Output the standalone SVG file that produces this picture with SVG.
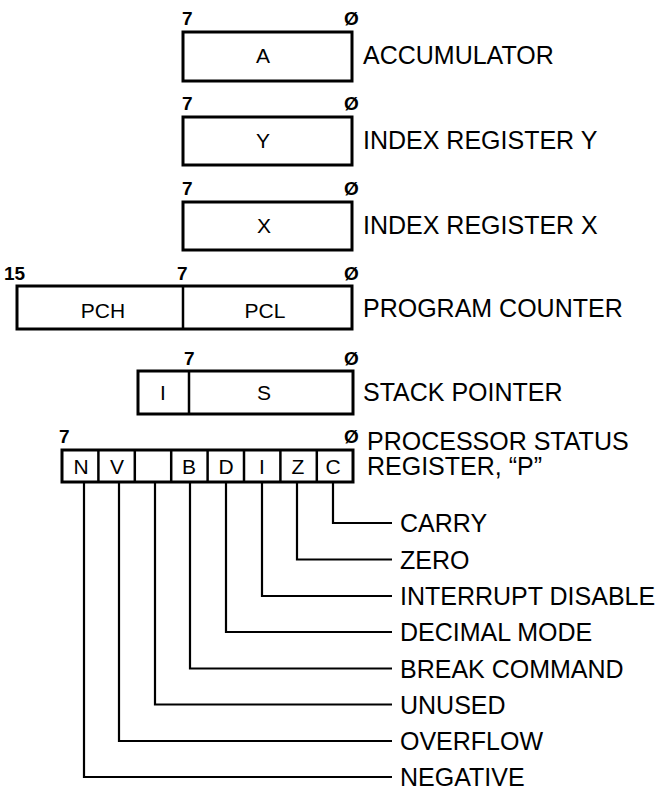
<svg xmlns="http://www.w3.org/2000/svg" width="664" height="790" viewBox="0 0 664 790">
<style>
.box{fill:#fff;stroke:#000;stroke-width:3}
.div{stroke:#000;stroke-width:2.5}
.lbl{font-family:"Liberation Sans",Arial,sans-serif;font-size:25px;fill:#000}
.lbl2{font-family:"Liberation Sans",Arial,sans-serif;font-size:24px;fill:#000}
.in{font-family:"Liberation Sans",Arial,sans-serif;font-size:21px;fill:#000;text-anchor:middle}
.bit{font-family:"Liberation Sans",Arial,sans-serif;font-size:19px;font-weight:bold;fill:#000}
.con{fill:none;stroke:#000;stroke-width:2.2}
</style>
<rect width="664" height="790" fill="#fff"/>
<g id="accumulator">
<rect class="box" x="183" y="32" width="169" height="49"/>
<text class="bit" x="182" y="25">7</text>
<text class="bit" x="344" y="25">Ø</text>
<text class="in" x="263" y="63">A</text>
<text class="lbl" x="363" y="64">ACCUMULATOR</text>
</g>
<g id="index-y">
<rect class="box" x="183" y="117" width="169" height="48"/>
<text class="bit" x="182" y="110">7</text>
<text class="bit" x="344" y="110">Ø</text>
<text class="in" x="263" y="148">Y</text>
<text class="lbl" x="363" y="149">INDEX REGISTER Y</text>
</g>
<g id="index-x">
<rect class="box" x="183" y="202" width="169" height="48"/>
<text class="bit" x="182" y="195">7</text>
<text class="bit" x="344" y="195">Ø</text>
<text class="in" x="264" y="233">X</text>
<text class="lbl" x="363" y="234">INDEX REGISTER X</text>
</g>
<g id="program-counter">
<rect class="box" x="17" y="286" width="335" height="43"/>
<line class="div" x1="183" y1="286" x2="183" y2="329"/>
<text class="bit" x="4" y="280">15</text>
<text class="bit" x="177" y="280">7</text>
<text class="bit" x="344" y="280">Ø</text>
<text class="in" x="103" y="318">PCH</text>
<text class="in" x="265" y="318">PCL</text>
<text class="lbl" x="363" y="317">PROGRAM COUNTER</text>
</g>
<g id="stack-pointer">
<rect class="box" x="138" y="371" width="215" height="43"/>
<line class="div" x1="189" y1="371" x2="189" y2="414"/>
<text class="bit" x="184" y="365">7</text>
<text class="bit" x="344" y="365">Ø</text>
<text class="in" x="163" y="400">I</text>
<text class="in" x="264" y="400">S</text>
<text class="lbl" x="363" y="401">STACK POINTER</text>
</g>
<g id="status-register">
<rect class="box" x="62" y="450" width="291" height="32"/>
<line class="div" x1="98.4" y1="450" x2="98.4" y2="482"/>
<line class="div" x1="134.8" y1="450" x2="134.8" y2="482"/>
<line class="div" x1="171.2" y1="450" x2="171.2" y2="482"/>
<line class="div" x1="207.6" y1="450" x2="207.6" y2="482"/>
<line class="div" x1="244" y1="450" x2="244" y2="482"/>
<line class="div" x1="280.4" y1="450" x2="280.4" y2="482"/>
<line class="div" x1="316.8" y1="450" x2="316.8" y2="482"/>
<text class="bit" x="59" y="443">7</text>
<text class="bit" x="344" y="443">Ø</text>
<text class="in" x="81" y="474">N</text>
<text class="in" x="117" y="474">V</text>
<text class="in" x="189" y="474">B</text>
<text class="in" x="226" y="474">D</text>
<text class="in" x="262" y="474">I</text>
<text class="in" x="298" y="474">Z</text>
<text class="in" x="333" y="474">C</text>
<text class="lbl" x="367" y="450">PROCESSOR STATUS</text>
<text class="lbl" x="367" y="475">REGISTER, “P”</text>
</g>
<g id="connectors">
<polyline class="con" points="333,482 333,523 392,523"/>
<polyline class="con" points="297,482 297,559.5 392,559.5"/>
<polyline class="con" points="262,482 262,596 392,596"/>
<polyline class="con" points="226,482 226,632 392,632"/>
<polyline class="con" points="190,482 190,668.5 392,668.5"/>
<polyline class="con" points="155,482 155,704.5 392,704.5"/>
<polyline class="con" points="119,482 119,741 392,741"/>
<polyline class="con" points="84,482 84,777 392,777"/>
</g>
<g id="flag-labels">
<text class="lbl" x="400" y="532">CARRY</text>
<text class="lbl" x="400" y="568.5">ZERO</text>
<text class="lbl" x="400" y="605">INTERRUPT DISABLE</text>
<text class="lbl" x="400" y="641">DECIMAL MODE</text>
<text class="lbl" x="400" y="677.5">BREAK COMMAND</text>
<text class="lbl" x="400" y="713.5">UNUSED</text>
<text class="lbl" x="400" y="750">OVERFLOW</text>
<text class="lbl" x="400" y="786">NEGATIVE</text>
</g>
</svg>
